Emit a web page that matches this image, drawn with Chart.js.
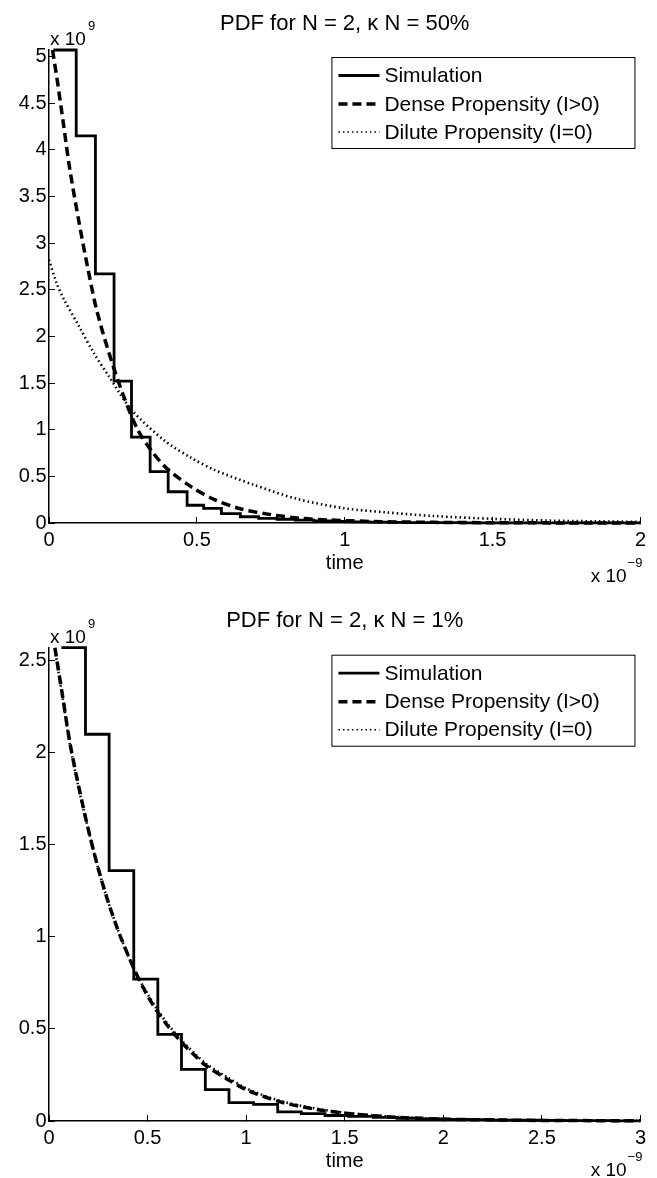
<!DOCTYPE html>
<html>
<head>
<meta charset="utf-8">
<script src="https://cdn.jsdelivr.net/npm/chart.js@4/dist/chart.umd.min.js"></script>
<style>
  body { margin: 0; background: #fff; }
  canvas { display: block; }
</style>
</head>
<body>
<canvas id="chartTop" width="657" height="589"></canvas>
<canvas id="chartBottom" width="657" height="589"></canvas>
<script>
// top panel: kappa N = 50%  (time in 1e-9, pdf in 1e9)
var xTicksTop = [0, 0.5, 1, 1.5, 2];
var yTicksTop = [0, 0.5, 1, 1.5, 2, 2.5, 3, 3.5, 4, 4.5, 5];
var simTimeTop = [0.015, 0.092, 0.157, 0.22, 0.279, 0.342, 0.403, 0.467, 0.523, 0.583, 0.647, 0.709, 0.771, 0.833, 0.896, 0.958, 1.02, 1.082, 1.145, 1.207, 1.27, 1.332, 1.394, 1.456, 1.52, 1.58, 1.643, 1.705, 1.768, 1.83, 1.89, 1.955, 2.0];
var simPdfTop = [5.07, 4.15, 2.67, 1.52, 0.92, 0.55, 0.335, 0.19, 0.157, 0.10, 0.067, 0.05, 0.04, 0.03, 0.022, 0.016, 0.012, 0.009, 0.007, 0.005, 0.004, 0.003, 0.002, 0.002, 0.0015, 0.001, 0.001, 0.001, 0.0005, 0.0005, 0.0005, 0.0005, 0.0005];
var denseTimeTop = [0.012, 0.03, 0.05, 0.07, 0.1, 0.13, 0.16, 0.2, 0.25, 0.3, 0.35, 0.4, 0.48, 0.56, 0.65, 0.75, 0.85, 0.95, 1.1, 1.3, 1.5, 1.75, 2.0];
var densePdfTop = [5.07, 4.7, 4.25, 3.8, 3.25, 2.75, 2.3, 1.85, 1.38, 1.0, 0.76, 0.58, 0.39, 0.25, 0.15, 0.09, 0.05, 0.032, 0.016, 0.007, 0.003, 0.001, 0.0005];
var diluteTimeTop = [0, 0.026, 0.05, 0.103, 0.15, 0.203, 0.28, 0.392, 0.48, 0.559, 0.692, 0.837, 1.0, 1.137, 1.3, 1.5, 1.7, 1.85, 2.0];
var dilutePdfTop = [2.82, 2.57, 2.4, 2.10, 1.83, 1.57, 1.21, 0.88, 0.70, 0.57, 0.41, 0.26, 0.157, 0.115, 0.075, 0.045, 0.025, 0.018, 0.012];

// bottom panel: kappa N = 1%
var xTicksBottom = [0, 0.5, 1, 1.5, 2, 2.5, 3];
var yTicksBottom = [0, 0.5, 1, 1.5, 2, 2.5];
var simTimeBottom = [0.063, 0.185, 0.305, 0.43, 0.552, 0.672, 0.793, 0.913, 1.038, 1.16, 1.28, 1.40, 1.52, 1.645, 1.765, 1.89, 2.01, 2.13, 2.255, 2.375, 2.5, 2.62, 2.74, 2.865, 2.985];
var simPdfBottom = [2.57, 2.10, 1.36, 0.77, 0.47, 0.28, 0.17, 0.10, 0.09, 0.05, 0.04, 0.03, 0.025, 0.02, 0.015, 0.012, 0.009, 0.007, 0.005, 0.004, 0.003, 0.002, 0.002, 0.001, 0.001];
var denseTimeBottom = [0.03, 0.07, 0.105, 0.15, 0.2, 0.25, 0.3, 0.363, 0.438, 0.5, 0.546, 0.6, 0.67, 0.75, 0.797, 0.9, 1.005, 1.17, 1.34, 1.5, 1.75, 2.0, 2.25, 2.5, 2.75, 3.0];
var densePdfBottom = [2.57, 2.3, 2.06, 1.82, 1.58, 1.37, 1.19, 1.0, 0.81, 0.68, 0.6, 0.52, 0.43, 0.345, 0.30, 0.23, 0.168, 0.105, 0.066, 0.042, 0.021, 0.01, 0.006, 0.003, 0.002, 0.001];
var diluteTimeBottom = [0.03, 0.07, 0.105, 0.15, 0.2, 0.25, 0.3, 0.363, 0.438, 0.5, 0.546, 0.6, 0.67, 0.75, 0.797, 0.9, 1.005, 1.17, 1.34, 1.5, 1.75, 2.0, 2.25, 2.5, 2.75, 3.0];
var dilutePdfBottom = [2.56, 2.29, 2.05, 1.81, 1.58, 1.37, 1.19, 1.0, 0.81, 0.69, 0.61, 0.53, 0.44, 0.355, 0.31, 0.24, 0.175, 0.11, 0.07, 0.045, 0.023, 0.011, 0.006, 0.003, 0.002, 0.001];

var legendLabels = ['Simulation', 'Dense Propensity (I>0)', 'Dilute Propensity (I=0)'];

Chart.defaults.font.family = '"Liberation Sans", Arial, sans-serif';
Chart.defaults.color = '#000';

function toPoints(xs, ys) {
    return xs.map(function(x, i) { return {x: x, y: ys[i]}; });
}

// title, the "x 10^n" multipliers and the boxed legend, drawn in matlab style
var decor = {
    id: 'decor',
    afterDraw: function(chart, args, opts) {
        var ctx = chart.ctx, a = chart.chartArea;
        ctx.save();
        ctx.fillStyle = '#000';

        ctx.font = '22px "Liberation Sans"';
        ctx.textAlign = 'center';
        ctx.textBaseline = 'alphabetic';
        ctx.fillText(opts.title, (a.left + a.right) / 2, a.top - 20.5);

        // y multiplier
        ctx.textAlign = 'left';
        ctx.font = '19px "Liberation Sans"';
        ctx.fillText('x 10', a.left + 1, a.top - 5);
        var w = ctx.measureText('x 10').width;
        ctx.font = '13px "Liberation Sans"';
        ctx.fillText('9', a.left + 3 + w, a.top - 20);

        // x multiplier
        ctx.textAlign = 'right';
        ctx.font = '13px "Liberation Sans"';
        ctx.fillText('\u22129', a.right + 2, opts.xExpY - 15);
        var sw = ctx.measureText('\u22129').width;
        ctx.font = '19px "Liberation Sans"';
        ctx.fillText('x 10', a.right + 1 - sw, opts.xExpY);

        // legend box
        var lx = a.right - 309, ly = a.top + 7, lw = 303, lh = 91;
        ctx.fillStyle = '#fff';
        ctx.fillRect(lx, ly, lw, lh);
        ctx.strokeStyle = '#000';
        ctx.lineWidth = 1;
        ctx.setLineDash([]);
        ctx.strokeRect(lx + 0.5, ly + 0.5, lw, lh);
        var rows = [18.5, 47, 75];
        chart.data.datasets.forEach(function(ds, i) {
            var yy = ly + rows[i];
            ctx.beginPath();
            ctx.setLineDash(ds.borderDash || []);
            ctx.lineWidth = i === 2 ? 1.5 : ds.borderWidth;
            ctx.strokeStyle = '#000';
            ctx.moveTo(lx + 7, yy);
            ctx.lineTo(lx + 48, yy);
            ctx.stroke();
            ctx.setLineDash([]);
            ctx.fillStyle = '#000';
            ctx.font = '21px "Liberation Sans"';
            ctx.textAlign = 'left';
            ctx.textBaseline = 'middle';
            ctx.fillText(ds.label, lx + 53, yy + 1);
        });
        ctx.restore();
    }
};

function makeChart(id, p) {
    var ctx = document.getElementById(id).getContext('2d');
    return new Chart(ctx, {
        type: 'line',
        data: {
            datasets: [{
                label: legendLabels[0],
                data: toPoints(p.simTime, p.simPdf),
                stepped: true,
                borderColor: '#000',
                borderWidth: 2.8,
                pointRadius: 0,
                clip: false
            }, {
                label: legendLabels[1],
                data: toPoints(p.denseTime, p.densePdf),
                borderColor: '#000',
                borderWidth: 3.5,
                borderDash: [9, 5],
                pointRadius: 0,
                tension: 0.3,
                clip: false
            }, {
                label: legendLabels[2],
                data: toPoints(p.diluteTime, p.dilutePdf),
                borderColor: '#000',
                borderWidth: 2.6,
                borderDash: [1.5, 3],
                pointRadius: 0,
                tension: 0.3,
                clip: false
            }]
        },
        options: {
            responsive: false,
            animation: false,
            layout: { padding: { top: p.top, right: 8, left: 0, bottom: 0 } },
            plugins: {
                legend: { display: false },
                tooltip: { enabled: false },
                decor: { title: p.title, xExpY: p.xExpY }
            },
            scales: {
                x: {
                    type: 'linear',
                    min: p.xTicks[0],
                    max: p.xTicks[p.xTicks.length - 1],
                    afterBuildTicks: function(s) { s.ticks = p.xTicks.map(function(v) { return {value: v}; }); },
                    afterFit: function(s) { s.height = p.xAxisHeight; },
                    grid: { drawOnChartArea: false, tickLength: -6, color: '#000', lineWidth: 1 },
                    border: { color: '#000', width: 1.5 },
                    ticks: { font: { size: 20 }, padding: 11, maxRotation: 0, callback: function(v) { return String(v); } },
                    title: { display: true, text: 'time', font: { size: 20 }, padding: { top: 0, bottom: p.timePad } }
                },
                y: {
                    min: 0,
                    max: p.yMax,
                    afterBuildTicks: function(s) { s.ticks = p.yTicks.map(function(v) { return {value: v}; }); },
                    afterFit: function(s) { s.width = 49; },
                    grid: { drawOnChartArea: false, tickLength: -6, color: '#000', lineWidth: 1 },
                    border: { color: '#000', width: 1.5 },
                    ticks: { font: { size: 20 }, padding: 8.5, callback: function(v) { return String(v); } }
                }
            }
        },
        plugins: [decor]
    });
}

makeChart('chartTop', {
    title: 'PDF for N = 2, \u03ba N = 50%',
    simTime: simTimeTop, simPdf: simPdfTop,
    denseTime: denseTimeTop, densePdf: densePdfTop,
    diluteTime: diluteTimeTop, dilutePdf: dilutePdfTop,
    xTicks: xTicksTop, yTicks: yTicksTop, yMax: 5.07,
    top: 50, xAxisHeight: 66, timePad: 14, xExpY: 582
});

makeChart('chartBottom', {
    title: 'PDF for N = 2, \u03ba N = 1%',
    simTime: simTimeBottom, simPdf: simPdfBottom,
    denseTime: denseTimeBottom, densePdf: densePdfBottom,
    diluteTime: diluteTimeBottom, dilutePdf: dilutePdfBottom,
    xTicks: xTicksBottom, yTicks: yTicksBottom, yMax: 2.57,
    top: 58.7, xAxisHeight: 57, timePad: 5, xExpY: 587
});
</script>
</body>
</html>
